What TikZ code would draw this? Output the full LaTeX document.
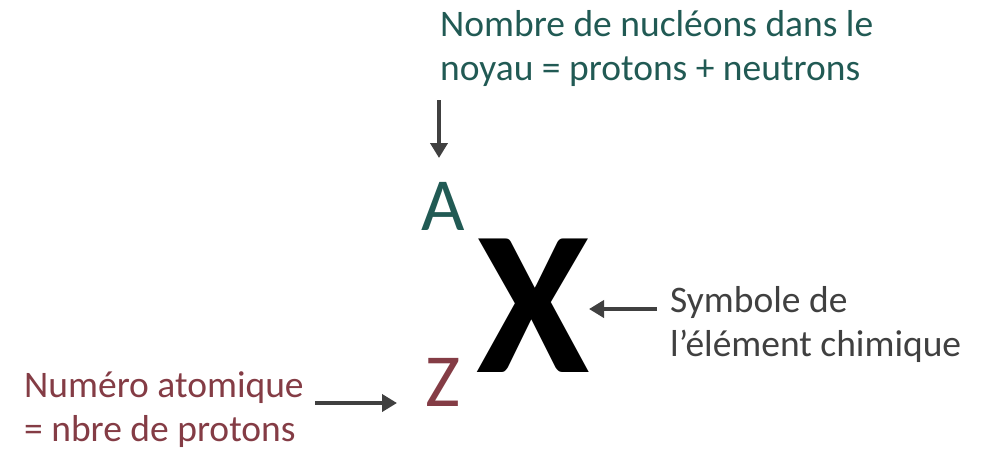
\documentclass[tikz,border=0pt]{standalone}
\usepackage{fontspec}
\setmainfont{Carlito}
\usetikzlibrary{arrows.meta}
\definecolor{tealtxt}{HTML}{215A54}
\definecolor{maroontxt}{HTML}{843C45}
\definecolor{greytxt}{HTML}{404040}
\begin{document}
\begin{tikzpicture}[x=1pt,y=-1pt,
  % two-line labels are placed by the baseline of their last line
  label/.style={inner sep=0pt,anchor=base west,align=left,
    font=\fontsize{37.5}{44}\selectfont},
  pointer/.style={draw=greytxt,line width=4pt,
    -{Triangle[length=15pt,width=17pt]}},
  letter/.style={inner sep=0pt,anchor=base west,font=\fontsize{75}{75}\selectfont}]
\useasboundingbox (0,0) rectangle (987,459);

% mass number and its description
\node[label,text=tealtxt] (nucl) at (440,80) {Nombre de nucléons dans le\\noyau = protons + neutrons};
\node[letter,text=tealtxt] (A) at (421,230) {A};
\coordinate (aTop) at (439,100);
\coordinate (aTip) at (439,158);
\draw[pointer] (aTop) -- (aTip);

% element symbol
\node[inner sep=0pt,anchor=base west,font=\fontsize{206}{206}\selectfont\bfseries] (X) at (476,372) {X};
\node[label,text=greytxt] (sym) at (670,356) {Symbole de\\l’élément chimique};
\coordinate (symTail) at (657,309);
\coordinate (symTip) at (589,309);
\draw[pointer] (symTail) -- (symTip);

% atomic number and its description
\node[letter,text=maroontxt] (Z) at (425,406) {Z};
\node[label,text=maroontxt] (num) at (24,441) {Numéro atomique\\= nbre de protons};
\coordinate (zTail) at (315,403);
\coordinate (zTip) at (397,403);
\draw[pointer] (zTail) -- (zTip);
\end{tikzpicture}
\end{document}
